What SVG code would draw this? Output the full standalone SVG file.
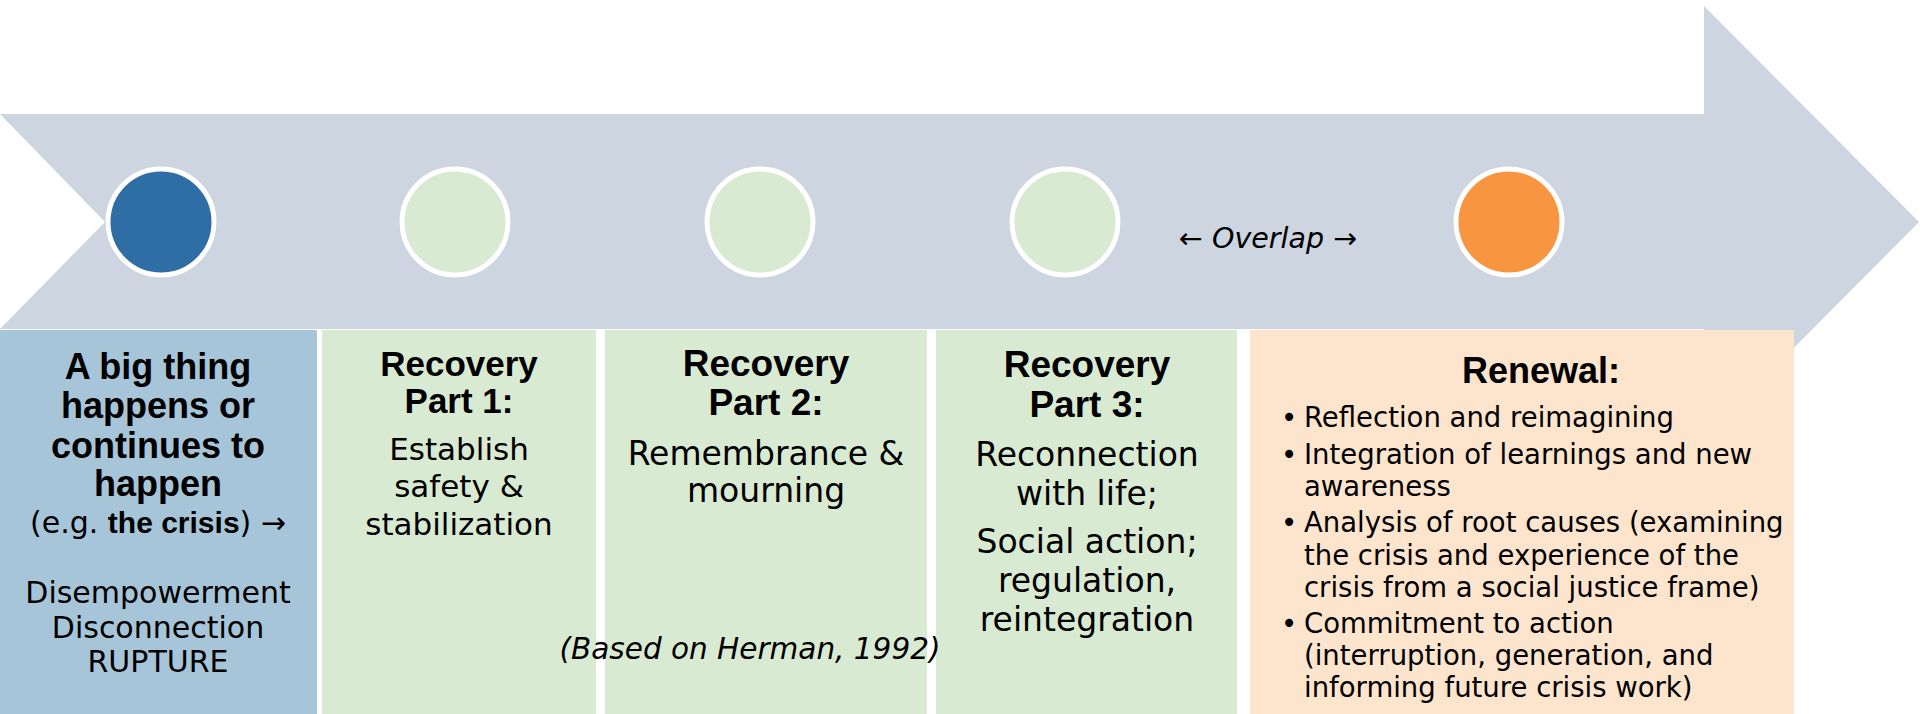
<svg xmlns="http://www.w3.org/2000/svg" width="1920" height="714" viewBox="0 0 1920 714">
<style>
.reg{font-family:"DejaVu Sans","Liberation Sans",sans-serif;fill:#000;text-anchor:middle}
.bold{font-family:"Liberation Sans","DejaVu Sans",sans-serif;font-weight:bold;fill:#000;text-anchor:middle}
.it{font-family:"DejaVu Sans","Liberation Sans",sans-serif;font-style:italic;fill:#000;text-anchor:middle}
.bl{font-family:"DejaVu Sans","Liberation Sans",sans-serif;fill:#000;font-size:27.5px}
.dot{stroke:#fff;stroke-width:5}
</style>
<rect width="1920" height="714" fill="#fff"/>
<g id="timeline-arrow">
<polygon points="0,114 1704,114 1704,6 1919,222 1704,438 1704,329 0,329 105,222" fill="#CDD5E0"/>
</g>
<g id="dot-crisis"><circle class="dot" cx="161" cy="222" r="53" fill="#2F6EA5"/></g>
<g id="dot-recovery1"><circle class="dot" cx="455" cy="222" r="53" fill="#D9EAD3"/></g>
<g id="dot-recovery2"><circle class="dot" cx="760" cy="222" r="53" fill="#D9EAD3"/></g>
<g id="dot-recovery3"><circle class="dot" cx="1065" cy="222" r="53" fill="#D9EAD3"/></g>
<g id="dot-renewal"><circle class="dot" cx="1509" cy="222" r="53" fill="#F79541"/></g>
<g id="overlap-label"><text class="it" x="1268" y="248" font-size="28.5">← Overlap →</text></g>

<g id="box-crisis">
<rect x="0" y="330" width="317" height="384" fill="#A7C5D8"/>
<text class="bold" font-size="36"><tspan x="158" y="379">A big thing</tspan><tspan x="158" y="418">happens or</tspan><tspan x="158" y="458">continues to</tspan><tspan x="158" y="496">happen</tspan></text>
<text class="reg" x="158" y="533" font-size="30">(e.g. <tspan font-family="Liberation Sans, sans-serif" font-weight="bold">the crisis</tspan>) →</text>
<text class="reg" font-size="30"><tspan x="158" y="603">Disempowerment</tspan><tspan x="158" y="638">Disconnection</tspan><tspan x="158" y="672">RUPTURE</tspan></text>
</g>

<g id="box-recovery1">
<rect x="322" y="330" width="274" height="384" fill="#D9EAD3"/>
<text class="bold" font-size="35"><tspan x="459" y="376">Recovery</tspan><tspan x="459" y="413">Part 1:</tspan></text>
<text class="reg" font-size="31"><tspan x="459" y="460">Establish</tspan><tspan x="459" y="497">safety &amp;</tspan><tspan x="459" y="535">stabilization</tspan></text>
</g>

<g id="box-recovery2">
<rect x="605" y="330" width="322" height="384" fill="#D9EAD3"/>
<text class="bold" font-size="37"><tspan x="766" y="376">Recovery</tspan><tspan x="766" y="415">Part 2:</tspan></text>
<text class="reg" font-size="33"><tspan x="766" y="465">Remembrance &amp;</tspan><tspan x="766" y="502">mourning</tspan></text>
</g>

<g id="box-recovery3">
<rect x="936" y="330" width="301" height="384" fill="#D9EAD3"/>
<text class="bold" font-size="37"><tspan x="1087" y="377">Recovery</tspan><tspan x="1087" y="417">Part 3:</tspan></text>
<text class="reg" font-size="33"><tspan x="1087" y="466">Reconnection</tspan><tspan x="1087" y="505">with life;</tspan><tspan x="1087" y="553">Social action;</tspan><tspan x="1087" y="592">regulation,</tspan><tspan x="1087" y="631">reintegration</tspan></text>
</g>

<g id="box-renewal">
<rect x="1250" y="330" width="544" height="384" fill="#FCE4CD"/>
<text class="bold" x="1541" y="383" font-size="36">Renewal:</text>
<g class="bl">
<text x="1281" y="427">•</text><text x="1304" y="427">Reflection and reimagining</text>
<text x="1281" y="464">•</text><text x="1304" y="464">Integration of learnings and new</text>
<text x="1304" y="496">awareness</text>
<text x="1281" y="532">•</text><text x="1304" y="532">Analysis of root causes (examining</text>
<text x="1304" y="565">the crisis and experience of the</text>
<text x="1304" y="597">crisis from a social justice frame)</text>
<text x="1281" y="633">•</text><text x="1304" y="633">Commitment to action</text>
<text x="1304" y="665">(interruption, generation, and</text>
<text x="1304" y="697">informing future crisis work)</text>
</g>
</g>

<g id="citation"><text class="it" x="750" y="659" font-size="29.5">(Based on Herman, 1992)</text></g>
</svg>
